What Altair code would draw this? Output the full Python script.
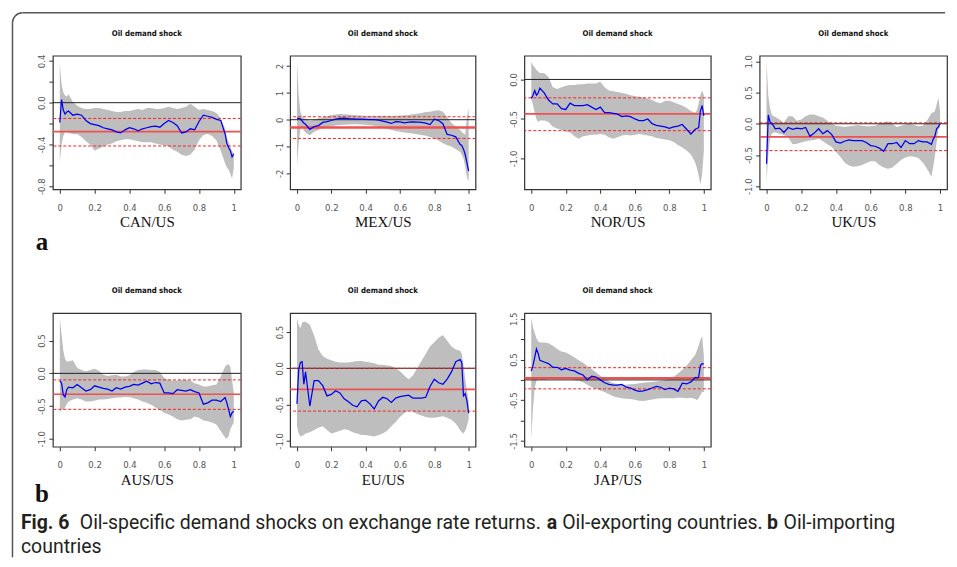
import altair as alt
import pandas as pd

# ---------------- data ----------------
X = [0, 0.01, 0.02, 0.03, 0.04, 0.05, 0.075, 0.1, 0.125, 0.15, 0.175, 0.2, 0.225, 0.25,
     0.275, 0.3, 0.325, 0.35, 0.375, 0.4, 0.425, 0.45, 0.475, 0.5, 0.525, 0.55, 0.575,
     0.6, 0.625, 0.65, 0.675, 0.7, 0.725, 0.75, 0.775, 0.8, 0.825, 0.85, 0.875, 0.9,
     0.925, 0.95, 0.96, 0.97, 0.98, 0.99, 1.0]

CAN_MID = [-0.19, 0.03, -0.07, -0.11, -0.09, -0.08, -0.12, -0.11, -0.12, -0.17, -0.20, -0.21,
           -0.22, -0.24, -0.25, -0.26, -0.28, -0.29, -0.26, -0.24, -0.25, -0.27, -0.25, -0.24,
           -0.23, -0.225, -0.235, -0.20, -0.17, -0.19, -0.22, -0.29, -0.28, -0.25, -0.26,
           -0.18, -0.12, -0.13, -0.14, -0.16, -0.17, -0.30, -0.39, -0.43, -0.46, -0.52, -0.49]
CAN_HI = [0.38, 0.18, 0.10, 0.07, 0.06, 0.08, 0.01, -0.03, -0.05, -0.06, -0.06, -0.05, -0.05,
          -0.06, -0.07, -0.08, -0.09, -0.09, -0.08, -0.08, -0.07, -0.06, -0.07, -0.05, -0.05,
          -0.06, -0.06, -0.05, -0.04, -0.05, -0.06, -0.05, -0.04, -0.01, -0.04, -0.07, -0.06,
          -0.07, -0.08, -0.10, -0.15, -0.25, -0.33, -0.38, -0.42, -0.46, -0.50]
CAN_LO = [-0.57, -0.40, -0.32, -0.28, -0.28, -0.29, -0.30, -0.30, -0.33, -0.37, -0.40, -0.46,
          -0.44, -0.42, -0.40, -0.39, -0.37, -0.36, -0.35, -0.35, -0.36, -0.37, -0.38, -0.38,
          -0.38, -0.39, -0.40, -0.41, -0.42, -0.45, -0.47, -0.50, -0.51, -0.50, -0.45, -0.36,
          -0.31, -0.30, -0.32, -0.36, -0.46, -0.58, -0.62, -0.64, -0.68, -0.73, -0.62]

MEX_MID = [0.05, 0.05, 0.03, -0.05, -0.12, -0.17, -0.36, -0.26, -0.22, -0.10, -0.07, -0.03,
           0.02, 0.05, 0.06, 0.04, 0.03, 0.02, 0.02, 0.01, 0.0, 0.0, -0.02, -0.05, -0.09,
           -0.14, -0.07, -0.08, -0.12, -0.09, -0.08, -0.09, -0.10, -0.13, -0.18, 0.02, -0.03,
           -0.15, -0.55, -0.58, -0.64, -0.92, -0.96, -1.1, -1.3, -1.6, -1.92]
MEX_HI = [2.2, 0.9, 0.3, 0.12, 0.06, 0.04, -0.04, 0.0, 0.05, 0.09, 0.13, 0.17, 0.19, 0.21,
          0.2, 0.19, 0.18, 0.17, 0.16, 0.15, 0.15, 0.15, 0.15, 0.15, 0.15, 0.14, 0.15, 0.16,
          0.17, 0.18, 0.2, 0.22, 0.25, 0.29, 0.3, 0.33, 0.35, 0.3, 0.1, -0.12, -0.25, -0.38,
          -0.45, -0.52, -0.55, 0.1, 0.45]
MEX_LO = [-1.73, -0.85, -0.35, -0.25, -0.4, -0.48, -0.58, -0.45, -0.38, -0.3, -0.27, -0.24,
          -0.22, -0.2, -0.19, -0.18, -0.17, -0.17, -0.18, -0.19, -0.21, -0.23, -0.26, -0.3,
          -0.34, -0.38, -0.42, -0.45, -0.48, -0.5, -0.52, -0.54, -0.57, -0.6, -0.65, -0.7,
          -0.78, -0.88, -0.95, -1.0, -1.1, -1.2, -1.3, -1.45, -1.75, -2.15, -2.3]

NOR_MID = [-0.24, -0.2, -0.14, -0.2, -0.17, -0.11, -0.17, -0.26, -0.31, -0.31, -0.37, -0.38,
           -0.3, -0.33, -0.33, -0.33, -0.32, -0.35, -0.38, -0.35, -0.42, -0.42, -0.43, -0.44,
           -0.47, -0.46, -0.47, -0.5, -0.52, -0.52, -0.5, -0.56, -0.58, -0.59, -0.6, -0.62,
           -0.6, -0.59, -0.57, -0.63, -0.69, -0.63, -0.62, -0.61, -0.4, -0.33, -0.46]
NOR_HI = [0.22, 0.18, 0.15, 0.12, 0.1, 0.08, 0.08, 0.03, -0.1, -0.12, -0.1, -0.08, -0.07,
          -0.07, -0.06, -0.06, -0.05, -0.05, -0.05, -0.03, -0.1, -0.14, -0.15, -0.16, -0.17,
          -0.18, -0.2, -0.21, -0.22, -0.23, -0.24, -0.26, -0.29, -0.3, -0.27, -0.27, -0.29,
          -0.31, -0.33, -0.36, -0.4, -0.42, -0.39, -0.3, -0.2, -0.14, -0.2]
NOR_LO = [-0.25, -0.32, -0.42, -0.5, -0.54, -0.52, -0.52, -0.54, -0.6, -0.62, -0.64, -0.66,
          -0.67, -0.72, -0.75, -0.72, -0.71, -0.7, -0.7, -0.69, -0.7, -0.73, -0.75, -0.73,
          -0.71, -0.7, -0.71, -0.7, -0.69, -0.7, -0.71, -0.72, -0.74, -0.75, -0.76, -0.77,
          -0.79, -0.83, -0.86, -0.9, -0.95, -1.05, -1.12, -1.22, -1.33, -1.2, -0.9]

UK_MID = [-0.64, 0.14, 0.03, 0.0, -0.03, -0.08, -0.07, -0.14, -0.06, -0.09, -0.07, -0.08,
          -0.06, -0.2, -0.15, -0.08, -0.16, -0.11, -0.17, -0.29, -0.31, -0.28, -0.26, -0.27,
          -0.27, -0.27, -0.3, -0.35, -0.36, -0.39, -0.44, -0.32, -0.32, -0.3, -0.38, -0.27,
          -0.32, -0.32, -0.27, -0.29, -0.29, -0.33, -0.25, -0.2, -0.08, -0.05, 0.0]
UK_HI = [1.0, 0.45, 0.25, 0.15, 0.12, 0.11, 0.07, 0.02, 0.12, 0.12, 0.05, 0.07, 0.12, 0.15,
         0.15, 0.12, 0.1, 0.05, 0.0, -0.03, -0.04, -0.05, -0.04, -0.03, -0.02, -0.03, -0.04,
         -0.04, -0.03, 0.0, 0.02, 0.04, 0.0, -0.05, -0.03, -0.01, 0.0, -0.02, -0.04, -0.03,
         0.05, 0.17, 0.18, 0.2, 0.3, 0.42, 0.2]
UK_LO = [-0.93, -0.5, -0.25, -0.16, -0.14, -0.14, -0.16, -0.18, -0.22, -0.33, -0.32, -0.3,
         -0.28, -0.27, -0.26, -0.24, -0.28, -0.33, -0.37, -0.45, -0.53, -0.62, -0.67, -0.69,
         -0.68, -0.66, -0.63, -0.6, -0.6, -0.66, -0.7, -0.72, -0.7, -0.64, -0.58, -0.54,
         -0.52, -0.53, -0.55, -0.62, -0.72, -0.85, -0.7, -0.52, -0.3, -0.1, -0.05]

AUS_MID = [-0.11, -0.15, -0.33, -0.36, -0.25, -0.21, -0.22, -0.17, -0.22, -0.27, -0.25, -0.19,
           -0.21, -0.23, -0.24, -0.27, -0.22, -0.24, -0.21, -0.2, -0.17, -0.18, -0.15, -0.12,
           -0.16, -0.14, -0.15, -0.3, -0.3, -0.31, -0.25, -0.26, -0.27, -0.25, -0.28, -0.3,
           -0.47, -0.45, -0.41, -0.41, -0.43, -0.37, -0.45, -0.55, -0.66, -0.6, -0.58]
AUS_HI = [0.84, 0.6, 0.35, 0.22, 0.18, 0.18, 0.2, 0.08, 0.05, 0.03, 0.05, 0.07, 0.04, -0.02,
          -0.04, -0.03, -0.02, -0.05, -0.05, -0.03, 0.02, 0.05, 0.06, 0.06, 0.05, 0.05, 0.02,
          -0.07, -0.1, -0.11, -0.11, -0.1, -0.1, -0.11, -0.15, -0.17, -0.2, -0.2, -0.18, -0.17,
          -0.05, 0.1, 0.13, 0.14, 0.1, -0.1, -0.3]
AUS_LO = [-0.6, -0.55, -0.56, -0.52, -0.47, -0.43, -0.4, -0.38, -0.4, -0.43, -0.43, -0.42,
          -0.4, -0.4, -0.39, -0.38, -0.37, -0.37, -0.36, -0.36, -0.38, -0.4, -0.43, -0.45,
          -0.48, -0.52, -0.56, -0.6, -0.63, -0.66, -0.7, -0.72, -0.71, -0.7, -0.66, -0.68,
          -0.72, -0.73, -0.75, -0.78, -0.88, -0.98, -1.0, -0.96, -0.85, -0.8, -0.75]

EU_MID = [-0.49, -0.02, 0.08, 0.09, -0.22, -0.05, -0.52, -0.17, -0.17, -0.24, -0.38, -0.36,
          -0.31, -0.34, -0.42, -0.46, -0.51, -0.53, -0.45, -0.44, -0.49, -0.56, -0.45, -0.40,
          -0.42, -0.47, -0.41, -0.39, -0.38, -0.37, -0.41, -0.41, -0.41, -0.40, -0.25, -0.15,
          -0.2, -0.22, -0.15, -0.05, 0.09, 0.12, 0.08, -0.38, -0.35, -0.45, -0.62]
EU_HI = [0.69, 0.6, 0.55, 0.63, 0.64, 0.64, 0.6, 0.45, 0.26, 0.17, 0.13, 0.11, 0.09, 0.08,
         0.08, 0.08, 0.09, 0.1, 0.1, 0.09, 0.08, 0.07, 0.05, 0.05, 0.04, 0.03, 0.0, -0.04,
         -0.1, -0.15, -0.1, 0.0, 0.1, 0.2, 0.3, 0.36, 0.42, 0.46, 0.38, 0.3, 0.26, 0.24, 0.2,
         0.05, -0.15, -0.3, -0.45]
EU_LO = [-0.8, -0.9, -0.94, -0.93, -0.92, -0.9, -0.88, -0.85, -0.82, -0.8, -0.85, -0.9, -0.88,
         -0.86, -0.84, -0.85, -0.88, -0.9, -0.92, -0.92, -0.93, -0.94, -0.92, -0.9, -0.86,
         -0.8, -0.74, -0.67, -0.62, -0.58, -0.6, -0.63, -0.65, -0.67, -0.68, -0.68, -0.67,
         -0.66, -0.68, -0.71, -0.76, -0.85, -0.88, -0.9, -0.86, -0.8, -0.7]

JAP_MID = [0.22, 0.35, 0.55, 0.76, 0.65, 0.48, 0.44, 0.4, 0.31, 0.31, 0.25, 0.28, 0.24, 0.22,
           0.16, 0.12, 0.0, 0.09, 0.07, 0.0, -0.07, -0.11, -0.13, -0.13, -0.11, -0.18, -0.2,
           -0.25, -0.28, -0.27, -0.24, -0.2, -0.16, -0.18, -0.24, -0.2, -0.22, -0.28, -0.08,
           -0.1, -0.05, 0.06, 0.05, 0.07, 0.35, 0.4, 0.39]
JAP_HI = [1.52, 1.3, 1.15, 1.02, 0.94, 0.92, 0.92, 0.9, 0.84, 0.76, 0.7, 0.67, 0.62, 0.55,
          0.48, 0.42, 0.34, 0.27, 0.18, 0.1, 0.03, -0.03, -0.08, -0.1, -0.12, -0.12, -0.11,
          -0.1, -0.08, -0.07, -0.06, -0.05, -0.04, -0.02, 0.0, 0.03, 0.08, 0.16, 0.25, 0.35,
          0.48, 0.62, 0.72, 0.85, 0.98, 1.08, 0.6]
JAP_LO = [-1.45, -0.7, -0.2, -0.02, 0.02, 0.0, 0.0, 0.02, 0.05, 0.06, 0.06, 0.04, 0.02, 0.0,
          -0.02, -0.06, -0.12, -0.18, -0.22, -0.26, -0.3, -0.35, -0.4, -0.43, -0.45, -0.46,
          -0.47, -0.49, -0.51, -0.52, -0.5, -0.48, -0.46, -0.45, -0.45, -0.45, -0.45, -0.44,
          -0.44, -0.45, -0.44, -0.47, -0.5, -0.45, -0.38, -0.3, -0.3]

# horizontal reference lines: mean (solid red), upper/lower (dashed red)
LEVELS = {
    "CAN": (-0.277, -0.151, -0.415),
    "MEX": (-0.29, 0.11, -0.70),
    "NOR": (-0.436, -0.233, -0.648),
    "UK": (-0.21, 0.015, -0.43),
    "AUS": (-0.32, -0.10, -0.55),
    "EU": (-0.29, 0.0, -0.59),
    "JAP": (0.044, 0.30, -0.22),
}
X_TICKS = [0, 0.2, 0.4, 0.6, 0.8, 1]
PANEL_TITLE = "Oil demand shock"

NARROW = "Liberation Sans Narrow, Arial Narrow, DejaVu Sans Condensed, Liberation Sans, sans-serif"
SERIF = "Liberation Serif, DejaVu Serif, serif"
CAPFONT = "Roboto, Liberation Sans, sans-serif"

ONE = pd.DataFrame({"k": [0]})


def panel(label, key, mid, hi, lo, dom, ticks, shown, fmt, width, mean_w=1.6, extra=None):
    for arr in (mid, hi, lo):
        assert len(arr) == len(X)
    df = pd.DataFrame({"x": X, "mid": mid, "hi": hi, "lo": lo})
    xs = alt.Scale(domain=[-0.04, 1.04], nice=False, zero=False)
    ys = alt.Scale(domain=dom, nice=False, zero=False)
    shown_js = "[" + ",".join(repr(v) for v in shown) + "]"
    xaxis = alt.Axis(values=X_TICKS, format="~g", title=label, labelPadding=9,
                     titlePadding=3, titleFont=SERIF, titleFontSize=15,
                     titleFontWeight="normal", titleColor="#111")
    yaxis = alt.Axis(values=ticks, title=None, labelAngle=270, labelAlign="center",
                     labelBaseline="bottom", labelPadding=2,
                     labelExpr=f"indexof({shown_js}, datum.value) >= 0 ? "
                               f"replace(format(datum.value, '{fmt}'), '\u2212', '-') : ''")

    def xe():
        return alt.X("x:Q", scale=xs, axis=xaxis, title=label)

    def ye(f):
        return alt.Y(f"{f}:Q", scale=ys, axis=yaxis, title=None)

    band = alt.Chart(df).mark_area(color="#BEBEBE", clip=True).encode(
        x=xe(), y=ye("lo"), y2="hi:Q")
    mean, dhi, dlo = LEVELS[key]
    zero_rule = alt.Chart(pd.DataFrame({"v": [0.0]})).mark_rule(
        color="#222", strokeWidth=1).encode(y=ye("v"))
    mean_rule = alt.Chart(pd.DataFrame({"v": [mean]})).mark_rule(
        color="#F05050", strokeWidth=mean_w).encode(y=ye("v"))
    dash_rule = alt.Chart(pd.DataFrame({"v": [dhi, dlo]})).mark_rule(
        color="#FF2020", strokeWidth=1, strokeDash=[3, 2]).encode(y=ye("v"))
    line = alt.Chart(df).mark_line(color="#0000EE", strokeWidth=1.25, clip=True).encode(
        x=xe(), y=ye("mid"))
    title = alt.Chart(ONE).mark_text(text=PANEL_TITLE, font=NARROW, fontSize=7.8,
                                     fontWeight="bold", color="#111", align="center",
                                     baseline="middle").encode(
        x=alt.value(width / 2), y=alt.value(-22))
    layers = [band, zero_rule, dash_rule, mean_rule, line, title]
    if extra:
        layers += extra
    return alt.layer(*layers).properties(width=width, height=134)


# ---- decorations (frame, panel letters, caption) ----
FRAME = "#555555"
frame = [
    alt.Chart(ONE).mark_rule(color=FRAME, strokeWidth=1.5).encode(
        x=alt.value(-30.5), x2=alt.value(895), y=alt.value(-43)),
    alt.Chart(ONE).mark_rule(color=FRAME, strokeWidth=1.5).encode(
        x=alt.value(-40.5), y=alt.value(-33), y2=alt.value(503)),
    alt.Chart(ONE).mark_arc(color=FRAME, theta=4.712389, theta2=6.283185,
                            innerRadius=9.25, outerRadius=10.75).encode(
        x=alt.value(-30.5), y=alt.value(-33)),
    alt.Chart(ONE).mark_text(text="a", font=SERIF, fontSize=25, fontWeight="bold",
                             color="#111", align="center", baseline="alphabetic").encode(
        x=alt.value(-11), y=alt.value(194.5)),
]

# caption segments: (text, weight, x, y) relative to the AUS panel origin
CAP_Y1, CAP_Y2 = 217, 241
CAP = [("Fig. 6", "bold", -32, CAP_Y1),
       ("Oil-specific demand shocks on exchange rate returns.", "normal", 27, CAP_Y1),
       ("a", "bold", 495.5, CAP_Y1),
       ("Oil-exporting countries.", "normal", 511, CAP_Y1),
       ("b", "bold", 716.5, CAP_Y1),
       ("Oil-importing", "normal", 733, CAP_Y1),
       ("countries", "normal", -32, CAP_Y2)]
caption = [alt.Chart(ONE).mark_text(text=t, font=CAPFONT, fontSize=19.5, fontWeight=w,
                                    color="#231F20", align="left", baseline="alphabetic").encode(
    x=alt.value(px), y=alt.value(py)) for t, w, px, py in CAP]
caption.append(alt.Chart(ONE).mark_text(text="b", font=SERIF, fontSize=25, fontWeight="bold",
                                        color="#111", align="center", baseline="alphabetic").encode(
    x=alt.value(-11), y=alt.value(189.5)))

F1 = ".1f"
can = panel("CAN/US", "CAN", CAN_MID, CAN_HI, CAN_LO, [-0.83, 0.45],
            [-0.8, -0.6, -0.4, -0.2, 0.0, 0.2, 0.4], [-0.8, -0.4, 0.0, 0.4], F1, 188.5, extra=frame)
mex = panel("MEX/US", "MEX", MEX_MID, MEX_HI, MEX_LO, [-2.6, 2.39],
            [-2, -1, 0, 1, 2], [-2, -1, 0, 1, 2], "d", 186, mean_w=2.4)
nor = panel("NOR/US", "NOR", NOR_MID, NOR_HI, NOR_LO, [-1.39, 0.30],
            [-1.0, -0.5, 0.0], [-1.0, -0.5, 0.0], F1, 187)
uk = panel("UK/US", "UK", UK_MID, UK_HI, UK_LO, [-1.05, 1.09],
           [-1.0, -0.5, 0.0, 0.5, 1.0], [-1.0, -0.5, 0.0, 0.5, 1.0], F1, 188)
aus = panel("AUS/US", "AUS", AUS_MID, AUS_HI, AUS_LO, [-1.12, 0.92],
            [-1.0, -0.5, 0.0, 0.5], [-1.0, -0.5, 0.0, 0.5], F1, 188.5, extra=caption)
eu = panel("EU/US", "EU", EU_MID, EU_HI, EU_LO, [-1.08, 0.76],
           [-1.0, -0.5, 0.0, 0.5], [-1.0, -0.5, 0.0, 0.5], F1, 186)
jap = panel("JAP/US", "JAP", JAP_MID, JAP_HI, JAP_LO, [-1.64, 1.64],
            [-1.5, -1.0, -0.5, 0.0, 0.5, 1.0, 1.5], [-1.5, -0.5, 0.5, 1.5], F1, 187, mean_w=2.4)

chart = alt.concat(can, mex, nor, uk, aus, eu, jap, columns=4,
                   spacing=alt.RowColnumber(row=124.2, column=49),
                   bounds="flush", align="each").properties(
    padding={"left": 3, "top": 2, "right": 0, "bottom": 0}
).configure_view(
    stroke="#333333", strokeWidth=1.2
).configure_axis(
    grid=False, domain=False, tickColor="#333", tickSize=4, tickWidth=1,
    labelFont=NARROW, labelFontSize=9.5, labelColor="#555"
)

chart.save("out.html", embed_options={"renderer": "svg", "actions": False})
